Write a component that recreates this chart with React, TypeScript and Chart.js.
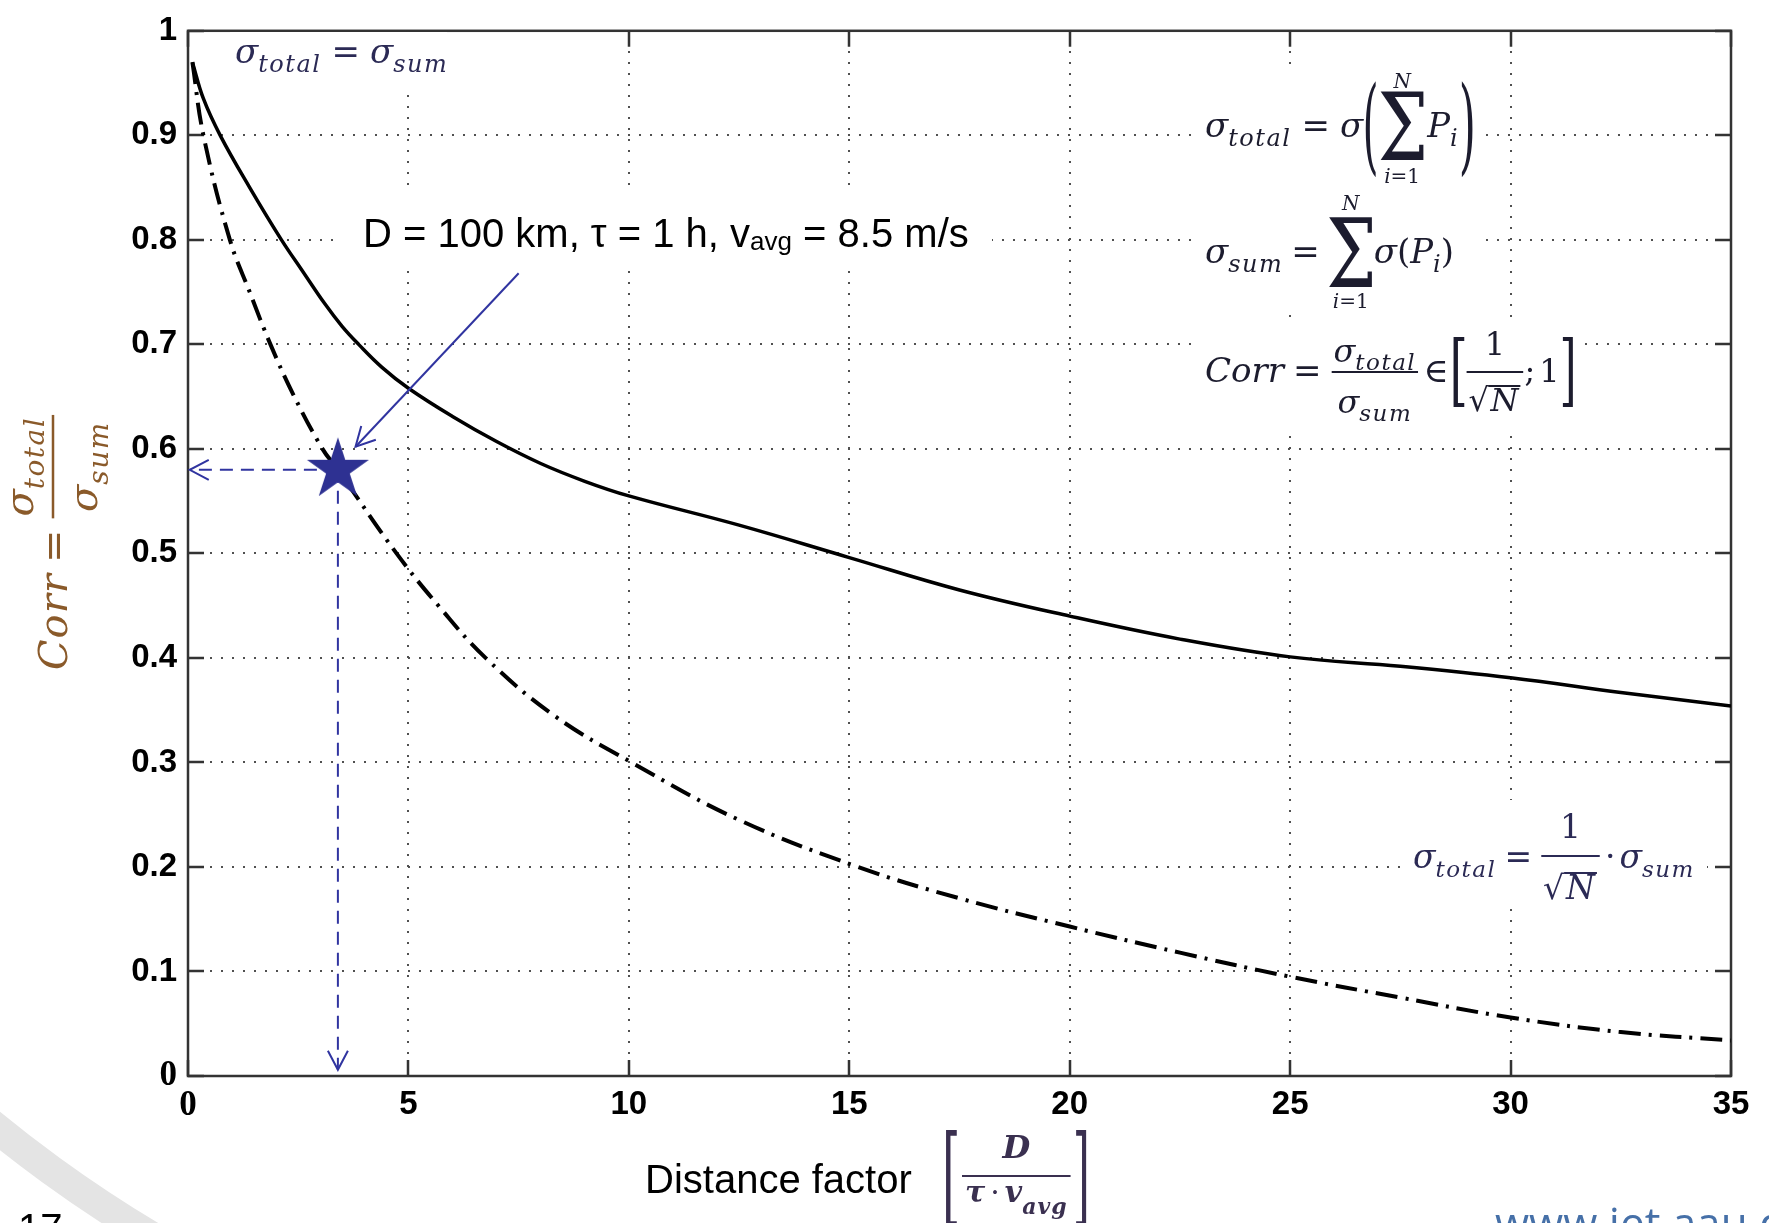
import React, { useEffect, useRef } from 'react';
import { Chart, registerables } from 'chart.js';

Chart.register(...registerables);

// ---------------- data ----------------
const xTickValues = [0, 5, 10, 15, 20, 25, 30, 35];
const xTickLabels = ['0', '5', '10', '15', '20', '25', '30', '35'];
const yTickValues = [0, 0.1, 0.2, 0.3, 0.4, 0.5, 0.6, 0.7, 0.8, 0.9, 1];
const yTickLabels = ['0', '0.1', '0.2', '0.3', '0.4', '0.5', '0.6', '0.7', '0.8', '0.9', '1'];

// measured correlation (solid curve)
const distanceMeasured = [0.1, 0.35, 0.73, 1.4, 2.12, 2.6, 3.1, 3.5, 3.87, 4.4, 5.0, 6.0, 7.0, 8.0, 9.0, 10, 12.5, 15, 17.5, 20, 22.5, 25, 27.5, 30, 32.5, 35];
const corrMeasured = [0.97, 0.935, 0.9, 0.85, 0.8, 0.77, 0.739, 0.717, 0.7, 0.678, 0.658, 0.631, 0.607, 0.586, 0.569, 0.555, 0.527, 0.496, 0.465, 0.44, 0.418, 0.401, 0.392, 0.381, 0.367, 0.354];

// uncorrelated limit 1/sqrt(N) (dash-dot curve)
const distanceUncorr = [0.1, 0.35, 0.95, 1.4, 1.87, 2.4, 3.05, 3.4, 4.73, 5.7, 6.75, 8.3, 10.06, 12.5, 15.2, 17.5, 20, 22.5, 25, 27.5, 30, 32.5, 35];
const corrUncorr = [0.97, 0.9, 0.8, 0.75, 0.7, 0.651, 0.6, 0.58, 0.5, 0.449, 0.4, 0.345, 0.3, 0.245, 0.2, 0.17, 0.143, 0.118, 0.095, 0.075, 0.056, 0.042, 0.034];

// highlighted case and its guide arrows
const markerX = [3.4];
const markerY = [0.58];
const guideHX = [3.4, 0.04];
const guideHY = [0.58, 0.58];
const guideVX = [3.4, 3.4];
const guideVY = [0.58, 0.006];
const pointerX = [7.5, 3.8];
const pointerY = [0.768, 0.602];

// ---------------- style ----------------
const W = 1769;
const H = 1223;
const SANS = "'Liberation Sans', Arial, sans-serif";
const SERIF = "'DejaVu Serif', serif";
const BLUE = '#3034a0';
const STAR = '#2e3192';
const NAVY = '#2b2a55';
const DARK = '#1c1c2e';
const YLAB = '#8a5a2a';

const pts = (xs: number[], ys: number[]) => xs.map((x, i) => ({ x, y: ys[i] }));

// white backgrounds behind the pasted formulas [x, y, w, h]
const textBoxes = [
  [230, 32, 217, 56],
  [336, 193, 656, 74],
  [1198, 68, 287, 247],
  [1198, 326, 382, 104],
  [1405, 800, 302, 108],
];

type Item = { w: number; draw: (x: number, y: number) => void };
type TOpt = { i?: boolean; b?: boolean; dy?: number; ls?: number; fam?: string };

function makeMath(ctx: CanvasRenderingContext2D) {
  const fontOf = (size: number, o: TOpt) => `${o.i ? 'italic ' : ''}${o.b ? 'bold ' : ''}${size}px ${o.fam || SERIF}`;
  const txt = (s: string, size: number, o: TOpt = {}): Item => {
    const font = fontOf(size, o);
    ctx.save();
    ctx.font = font;
    (ctx as any).letterSpacing = `${o.ls || 0}px`;
    const w = ctx.measureText(s).width;
    ctx.restore();
    return {
      w,
      draw: (x, y) => {
        ctx.save();
        ctx.font = font;
        (ctx as any).letterSpacing = `${o.ls || 0}px`;
        ctx.textAlign = 'left';
        ctx.textBaseline = 'alphabetic';
        ctx.fillText(s, x, y + (o.dy || 0));
        ctx.restore();
      },
    };
  };
  const sp = (w: number): Item => ({ w, draw: () => {} });
  const row = (...items: Item[]): Item => ({
    w: items.reduce((a, b) => a + b.w, 0),
    draw: (x, y) => {
      let cx = x;
      for (const it of items) {
        it.draw(cx, y);
        cx += it.w;
      }
    },
  });
  const frac = (num: Item, den: Item, up: number, down: number, bar: number, pad: number, lw: number): Item => {
    const Wd = Math.max(num.w, den.w) + 2 * pad;
    return {
      w: Wd,
      draw: (x, y) => {
        num.draw(x + (Wd - num.w) / 2, y - up);
        den.draw(x + (Wd - den.w) / 2, y + down);
        ctx.fillRect(x + pad * 0.4, y - bar - lw / 2, Wd - pad * 0.8, lw);
      },
    };
  };
  // glyph stretched to a given ink box; bottom = ink bottom offset from baseline
  const fit = (s: string, size: number, o: { w: number; h: number; bottom: number; padL?: number; padR?: number } & TOpt): Item => {
    const font = fontOf(size, o);
    ctx.save();
    ctx.font = font;
    const m = ctx.measureText(s);
    ctx.restore();
    const bw = m.actualBoundingBoxLeft + m.actualBoundingBoxRight || 1;
    const bh = m.actualBoundingBoxAscent + m.actualBoundingBoxDescent || 1;
    const sx = o.w / bw;
    const sy = o.h / bh;
    const padL = o.padL || 0;
    const padR = o.padR || 0;
    return {
      w: padL + o.w + padR,
      draw: (x, y) => {
        ctx.save();
        ctx.font = font;
        ctx.textAlign = 'left';
        ctx.textBaseline = 'alphabetic';
        ctx.translate(x + padL + m.actualBoundingBoxLeft * sx, y + o.bottom);
        ctx.scale(sx, sy);
        ctx.fillText(s, 0, -m.actualBoundingBoxDescent);
        ctx.restore();
      },
    };
  };
  const limits = (op: Item, upper: Item, lower: Item, upY: number, loY: number, pad = 6): Item => {
    const Wd = Math.max(op.w, upper.w, lower.w) + pad;
    return {
      w: Wd,
      draw: (x, y) => {
        op.draw(x + (Wd - op.w) / 2, y);
        upper.draw(x + (Wd - upper.w) / 2, y - upY);
        lower.draw(x + (Wd - lower.w) / 2, y + loY);
      },
    };
  };
  const sqrt = (inner: Item, size: number, lw: number): Item => {
    const r = txt('√', size);
    ctx.save();
    ctx.font = fontOf(size, {});
    const m = ctx.measureText('√');
    ctx.restore();
    const top = m.actualBoundingBoxAscent;
    const rw = m.actualBoundingBoxRight;
    return {
      w: rw + inner.w + 4,
      draw: (x, y) => {
        r.draw(x, y);
        inner.draw(x + rw + 1, y);
        ctx.fillRect(x + rw - 1, y - top, inner.w + 4, lw);
      },
    };
  };
  return { txt, sp, row, frac, fit, limits, sqrt };
}

function drawTexts(ctx: CanvasRenderingContext2D) {
  const M = makeMath(ctx);
  const sig = (sub: string, size = 34, subSize = 24, dy = 9, ls = 1.5) =>
    M.row(M.txt('σ', size, { i: true }), M.txt(sub, subSize, { i: true, dy, ls }));
  const eq = (size = 34, g = 10) => M.row(M.sp(g), M.txt('=', size), M.sp(g));
  const iEq1 = (size = 20) => M.row(M.txt('i', size, { i: true }), M.txt('=1', size));
  ctx.save();

  // plain text
  ctx.fillStyle = '#000';
  M.row(
    M.txt('D = 100 km, τ = 1 h, v', 40, { fam: SANS }),
    M.txt('avg', 26, { fam: SANS, dy: 3 }),
    M.txt(' = 8.5 m/s', 40, { fam: SANS }),
  ).draw(363, 247);
  M.txt('Distance factor', 40, { fam: SANS }).draw(645, 1193);
  M.txt('17', 40, { fam: SANS }).draw(18, 1242);
  ctx.fillStyle = '#4670a8';
  M.txt('www.iet.aau.dk', 44, { fam: "'Open Sans', sans-serif" }).draw(1495, 1239);

  // top-left formula
  ctx.fillStyle = NAVY;
  M.row(sig('total'), eq(), sig('sum')).draw(235, 63);

  // right formulas
  ctx.fillStyle = DARK;
  M.row(
    sig('total'),
    eq(),
    M.txt('σ', 34, { i: true }),
    M.fit('(', 60, { w: 11, h: 98, bottom: 41, padL: 2, padR: 1 }),
    M.limits(M.fit('Σ', 60, { w: 44, h: 68, bottom: 23 }), M.txt('N', 20, { i: true }), iEq1(), 49, 46),
    M.txt('P', 34, { i: true }),
    M.txt('i', 24, { i: true, dy: 9 }),
    M.fit(')', 60, { w: 11, h: 98, bottom: 41, padL: 4, padR: 2 }),
  ).draw(1205, 137);

  M.row(
    sig('sum'),
    eq(34, 8),
    M.limits(M.fit('Σ', 60, { w: 44, h: 70, bottom: 24 }), M.txt('N', 20, { i: true }), iEq1(), 53, 45, 2),
    M.txt('σ', 34, { i: true }),
    M.txt('(', 34),
    M.txt('P', 34, { i: true }),
    M.txt('i', 24, { i: true, dy: 9 }),
    M.txt(')', 34),
  ).draw(1205, 263);

  M.row(
    M.txt('Corr', 34, { i: true }),
    eq(34, 9),
    M.frac(sig('total', 32, 23, 8), sig('sum', 32, 23, 8), 20, 31, 10, 3, 2),
    M.sp(4),
    M.txt('∈', 34),
    M.sp(4),
    M.fit('[', 60, { w: 11, h: 71, bottom: 26, padL: 1, padR: 1 }),
    M.frac(M.txt('1', 32), M.sqrt(M.txt('N', 32, { i: true }), 32, 2), 27, 29, 10, 3, 2),
    M.txt(';', 32),
    M.sp(4),
    M.txt('1', 32),
    M.fit(']', 60, { w: 11, h: 71, bottom: 26, padL: 3, padR: 1 }),
  ).draw(1205, 382);

  // bottom-right formula
  ctx.fillStyle = NAVY;
  M.row(
    sig('total', 33, 23, 9, 1.5),
    eq(33, 8),
    M.frac(M.txt('1', 33), M.sqrt(M.txt('N', 33, { i: true }), 33, 2), 30, 31, 12, 3, 2),
    M.sp(4),
    M.txt('·', 33),
    M.sp(4),
    sig('sum', 33, 23, 9, 1.5),
  ).draw(1413, 868);

  // x-axis unit bracket
  ctx.fillStyle = '#3a3050';
  M.row(
    M.fit('[', 60, { w: 11, h: 98, bottom: 52, padL: 0, padR: 3 }),
    M.frac(
      M.txt('D', 32, { i: true, b: true }),
      M.row(
        M.txt('τ', 30, { i: true, b: true }),
        M.sp(5),
        M.txt('·', 30),
        M.sp(5),
        M.txt('v', 30, { i: true, b: true }),
        M.txt('avg', 22, { i: true, b: true, dy: 12, ls: 1 }),
      ),
      18, 26, 0, 5, 2,
    ),
    M.fit(']', 60, { w: 11, h: 98, bottom: 52, padL: 3, padR: 0 }),
  ).draw(946, 1176);

  // y-axis title (rotated)
  ctx.fillStyle = YLAB;
  ctx.save();
  ctx.translate(67, 670);
  ctx.rotate(-Math.PI / 2);
  M.row(
    M.txt('Corr', 40, { i: true, ls: 1 }),
    eq(40, 10),
    M.frac(sig('total', 40, 28, 11), sig('sum', 40, 28, 11), 34, 30, 14, 3, 2.5),
  ).draw(0, 0);
  ctx.restore();

  ctx.restore();
}

const framePlugin = {
  id: 'frameAndNotes',
  beforeDraw(chart: any) {
    const ctx: CanvasRenderingContext2D = chart.ctx;
    ctx.save();
    ctx.fillStyle = '#fff';
    ctx.fillRect(0, 0, W, H);
    // slide decoration arc
    ctx.strokeStyle = '#e4e4e4';
    ctx.lineWidth = 30;
    ctx.beginPath();
    ctx.arc(819, 115, 1305, 1.9, 2.5);
    ctx.stroke();
    ctx.restore();
  },
  beforeDatasetsDraw(chart: any) {
    const ctx: CanvasRenderingContext2D = chart.ctx;
    const a = chart.chartArea;
    const xs = chart.scales.x;
    const ys = chart.scales.y;
    ctx.save();
    // dotted grid
    ctx.strokeStyle = '#505050';
    ctx.lineWidth = 2;
    ctx.setLineDash([2, 9]);
    for (const v of xTickValues) {
      if (v <= xs.min || v >= xs.max) continue;
      const px = Math.round(xs.getPixelForValue(v));
      ctx.beginPath();
      ctx.moveTo(px, a.bottom);
      ctx.lineTo(px, a.top);
      ctx.stroke();
    }
    for (const v of yTickValues) {
      if (v <= ys.min || v >= ys.max) continue;
      const py = Math.round(ys.getPixelForValue(v));
      ctx.beginPath();
      ctx.moveTo(a.left, py);
      ctx.lineTo(a.right, py);
      ctx.stroke();
    }
    ctx.setLineDash([]);
    // box
    ctx.strokeStyle = '#333';
    ctx.lineWidth = 2.5;
    ctx.strokeRect(a.left, a.top, a.right - a.left, a.bottom - a.top);
    // inward ticks
    const TL = 16;
    ctx.beginPath();
    for (const v of xTickValues) {
      const px = Math.round(xs.getPixelForValue(v));
      ctx.moveTo(px, a.bottom);
      ctx.lineTo(px, a.bottom - TL);
      ctx.moveTo(px, a.top);
      ctx.lineTo(px, a.top + TL);
    }
    for (const v of yTickValues) {
      const py = Math.round(ys.getPixelForValue(v));
      ctx.moveTo(a.left, py);
      ctx.lineTo(a.left + TL, py);
      ctx.moveTo(a.right, py);
      ctx.lineTo(a.right - TL, py);
    }
    ctx.stroke();
    // white formula backgrounds
    ctx.fillStyle = '#fff';
    for (const b of textBoxes) ctx.fillRect(b[0], b[1], b[2], b[3]);
    ctx.restore();
  },
  afterDatasetsDraw(chart: any) {
    const ctx: CanvasRenderingContext2D = chart.ctx;
    chart.data.datasets.forEach((ds: any, i: number) => {
      if (!ds.arrowHead) return;
      const data = chart.getDatasetMeta(i).data;
      const p1 = data[data.length - 2];
      const p2 = data[data.length - 1];
      const ang = Math.atan2(p2.y - p1.y, p2.x - p1.x);
      const L = 19;
      const hw = 10;
      const bx = p2.x - L * Math.cos(ang);
      const by = p2.y - L * Math.sin(ang);
      const nx = -Math.sin(ang);
      const ny = Math.cos(ang);
      ctx.save();
      ctx.strokeStyle = ds.borderColor;
      ctx.lineWidth = 2;
      ctx.setLineDash([]);
      ctx.beginPath();
      ctx.moveTo(bx + hw * nx, by + hw * ny);
      ctx.lineTo(p2.x, p2.y);
      ctx.lineTo(bx - hw * nx, by - hw * ny);
      ctx.stroke();
      ctx.restore();
    });
  },
  afterDraw(chart: any) {
    drawTexts(chart.ctx);
  },
};

function makeStar(R: number, color: string) {
  const c = document.createElement('canvas');
  const s = Math.ceil(2 * R + 4);
  c.width = s;
  c.height = s;
  const g = c.getContext('2d')!;
  g.fillStyle = color;
  g.beginPath();
  for (let k = 0; k < 10; k++) {
    const r = k % 2 === 0 ? R : R * 0.382;
    const an = -Math.PI / 2 + (k * Math.PI) / 5;
    const px = s / 2 + r * Math.cos(an);
    const py = s / 2 + r * Math.sin(an);
    if (k === 0) g.moveTo(px, py);
    else g.lineTo(px, py);
  }
  g.closePath();
  g.fill();
  return c;
}

const TICK_FONT = { family: SANS, size: 33, weight: 'bold' as const };
const ZERO_FONT = { family: "'Liberation Serif', serif", size: 35, weight: 'bold' as const };

export default function App() {
  const ref = useRef<HTMLCanvasElement>(null);
  useEffect(() => {
    document.body.style.margin = '0';
    const canvas = ref.current!;
    const star = makeStar(32.6, STAR);
    const chart = new Chart(canvas, {
      type: 'scatter',
      data: {
        datasets: [
          {
            label: 'marker',
            data: pts(markerX, markerY),
            pointStyle: star as any,
            pointRadius: 10,
            showLine: false,
            order: 0,
          } as any,
          {
            label: 'pointer',
            data: pts(pointerX, pointerY),
            showLine: true,
            borderColor: BLUE,
            borderWidth: 2,
            pointRadius: 0,
            arrowHead: true,
            order: 1,
          } as any,
          {
            label: 'guideH',
            data: pts(guideHX, guideHY),
            showLine: true,
            borderColor: BLUE,
            borderWidth: 2,
            borderDash: [13, 8],
            pointRadius: 0,
            arrowHead: true,
            order: 2,
          } as any,
          {
            label: 'guideV',
            data: pts(guideVX, guideVY),
            showLine: true,
            borderColor: BLUE,
            borderWidth: 2,
            borderDash: [13, 8],
            pointRadius: 0,
            arrowHead: true,
            order: 3,
          } as any,
          {
            label: 'measured',
            data: pts(distanceMeasured, corrMeasured),
            showLine: true,
            borderColor: '#000',
            borderWidth: 3.5,
            pointRadius: 0,
            tension: 0.4,
            order: 4,
          } as any,
          {
            label: 'uncorrelated',
            data: pts(distanceUncorr, corrUncorr),
            showLine: true,
            borderColor: '#000',
            borderWidth: 4,
            borderDash: [22, 8, 3, 8],
            pointRadius: 0,
            tension: 0.4,
            order: 5,
          } as any,
        ],
      },
      options: {
        responsive: false,
        animation: false,
        devicePixelRatio: 1,
        events: [],
        layout: { padding: { left: 0, top: 23, right: 38, bottom: 0 } },
        plugins: { legend: { display: false }, tooltip: { enabled: false }, title: { display: false } },
        scales: {
          x: {
            type: 'linear',
            min: 0,
            max: 35,
            afterBuildTicks: (s: any) => {
              s.ticks = xTickValues.map((v) => ({ value: v }));
            },
            afterFit: (s: any) => {
              s.height = 147;
            },
            ticks: {
              padding: 9,
              color: '#000',
              maxRotation: 0,
              autoSkip: false,
              font: (c: any) => (c.tick && c.tick.value === 0 ? ZERO_FONT : TICK_FONT),
              callback: (_v: any, i: number) => xTickLabels[i],
            },
            grid: { display: false, drawTicks: false },
            border: { display: false },
          },
          y: {
            type: 'linear',
            min: 0,
            max: 1,
            afterBuildTicks: (s: any) => {
              s.ticks = yTickValues.map((v) => ({ value: v }));
            },
            afterFit: (s: any) => {
              s.width = 188;
            },
            ticks: {
              padding: 11,
              color: '#000',
              autoSkip: false,
              font: (c: any) => (c.tick && c.tick.value === 0 ? ZERO_FONT : TICK_FONT),
              callback: (_v: any, i: number) => yTickLabels[i],
            },
            grid: { display: false, drawTicks: false },
            border: { display: false },
          },
        } as any,
      },
      plugins: [framePlugin as any],
    });
    return () => chart.destroy();
  }, []);
  return <canvas ref={ref} width={W} height={H} style={{ display: 'block', width: W, height: H }} />;
}
